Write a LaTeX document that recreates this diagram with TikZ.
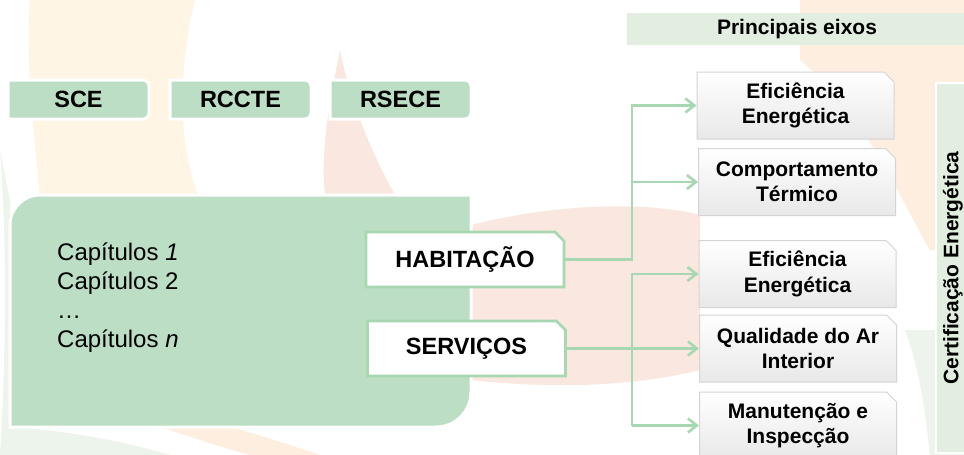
\documentclass[tikz,border=0pt]{standalone}
\usepackage{fontspec}
\setmainfont{Liberation Sans}
\usetikzlibrary{shapes.misc,arrows.meta}
\definecolor{gbox}{RGB}{187,222,196}
\definecolor{gline}{RGB}{168,216,178}
\definecolor{gpale}{RGB}{226,238,223}
\definecolor{gborder}{RGB}{212,212,212}
\definecolor{wmyellow}{RGB}{254,245,228}
\definecolor{wmred}{RGB}{250,232,224}
\definecolor{wmorange}{RGB}{253,238,224}
\definecolor{wmgreen}{RGB}{237,244,235}
\begin{document}
\begin{tikzpicture}[x=1pt,y=-1pt,
  toplbl/.style={font=\fontsize{23.5}{28}\selectfont\bfseries},
  wbox/.style={chamfered rectangle, chamfered rectangle corners=north east,
    chamfered rectangle xsep=4.5pt, chamfered rectangle ysep=4.5pt,
    minimum width=198pt, minimum height=55pt, inner sep=0pt,
    draw=gline, line width=2.6pt, fill=white,
    font=\fontsize{23.5}{28}\selectfont\bfseries},
  ebox/.style={chamfered rectangle, chamfered rectangle corners=north east,
    chamfered rectangle xsep=5pt, chamfered rectangle ysep=5pt,
    minimum width=197pt, minimum height=67pt, inner sep=0pt,
    draw=gborder, line width=1pt, top color=white, bottom color=black!9,
    align=center, font=\fontsize{21}{25.5}\selectfont\bfseries},
  conn/.style={draw=gline, line width=2.6pt},
  arr/.style={conn, -{Straight Barb[length=9pt,width=14pt]}},
  wm/.style={draw=none}
]
\useasboundingbox (0,0) rectangle (964,455);
\fill[white] (0,0) rectangle (964,455);
% faint watermark
\fill[wm, wmyellow] (30,0) -- (195,0) .. controls (180,60) and (175,140) .. (200,200) -- (40,200) .. controls (35,140) and (25,60) .. cycle;
\fill[wm, wmorange] (160,427) .. controls (200,440) and (230,450) .. (250,455) -- (320,455) .. controls (290,445) and (260,435) .. (230,427) -- cycle;
\fill[wm, wmgreen] (0,150) .. controls (8,250) and (5,380) .. (0,455) -- (170,455) .. controls (120,440) and (60,430) .. (10,427) -- (10,200) -- cycle;
\fill[wm, wmred] (340,50) .. controls (330,100) and (320,150) .. (325,195) -- (395,195) .. controls (370,150) and (350,100) .. cycle;
\fill[wm, wmred] (471,225) .. controls (550,205) and (640,200) .. (700,215) -- (700,370) .. controls (640,385) and (560,390) .. (471,380) -- cycle;
\fill[wm, wmorange] (800,0) -- (964,0) -- (964,250) -- (930,250) .. controls (900,200) and (870,120) .. (800,60) -- cycle;
\fill[wm, wmgreen] (905,330) .. controls (920,370) and (925,410) .. (930,455) -- (964,455) -- (964,330) -- cycle;

% top boxes
\fill[gbox, draw=white, line width=3pt] (8,80) -- (143,80) arc[start angle=270,end angle=360,radius=6] -- (149,113) arc[start angle=0,end angle=90,radius=6] -- (8,119) -- cycle;
\fill[gbox, draw=white, line width=3pt] (170,80) -- (305,80) arc[start angle=270,end angle=360,radius=6] -- (311,113) arc[start angle=0,end angle=90,radius=6] -- (170,119) -- cycle;
\fill[gbox, draw=white, line width=3pt] (330,80) -- (465,80) arc[start angle=270,end angle=360,radius=6] -- (471,113) arc[start angle=0,end angle=90,radius=6] -- (330,119) -- cycle;
\node[toplbl] (sce) at (78.5,99.5) {SCE};
\node[toplbl] (rccte) at (240.5,99.5) {RCCTE};
\node[toplbl] (rsece) at (400.5,99.5) {RSECE};

% big box
\fill[gbox, draw=white, line width=3pt] (10,427) -- (10,225) arc[start angle=180,end angle=270,radius=30] -- (471,195) -- (471,392) arc[start angle=0,end angle=90,radius=35] -- cycle;
\node[anchor=west, align=left, inner sep=0pt, font=\fontsize{24}{29}\selectfont] (caps) at (57,298)
  {Capítulos \textit{1}\\Capítulos 2\\…\\Capítulos \textit{n}};

% header bars
\fill[gpale] (627,13) rectangle (967,45);
\node[font=\fontsize{21}{25}\selectfont\bfseries] (eixos) at (797,29) {Principais eixos};
\fill[gpale, draw=white, line width=2pt] (936,83) rectangle (967,453);
\node[rotate=90, font=\fontsize{21}{25}\selectfont\bfseries] (cert) at (953,268) {Certificação Energética};

% category boxes
\node[wbox] (hab) at (465,259.5) {HABITAÇÃO};
\node[wbox] (ser) at (466.5,348.5) {SERVIÇOS};

% axis boxes
\node[ebox] (e1) at (795.5,105.5) {Eficiência\\Energética};
\node[ebox] (e2) at (797,182) {Comportamento\\Térmico};
\node[ebox] (e3) at (797.5,274) {Eficiência\\Energética};
\node[ebox] (e4) at (798,348.5) {Qualidade do Ar\\Interior};
\node[ebox] (e5) at (798,425.5) {Manutenção e\\Inspecção};

% connectors
\coordinate (jx) at (632,0);
\draw[arr] (hab.east) -| (jx |- e1.west) -- (e1.west);
\draw[arr] (jx |- e2.west) -- (e2.west);
\draw[arr] (jx |- e5.west) |- (e3.west);
\draw[arr] (ser.east) -- (e4.west);
\draw[arr] (jx |- e5.west) -- (e5.west);
\end{tikzpicture}
\end{document}
